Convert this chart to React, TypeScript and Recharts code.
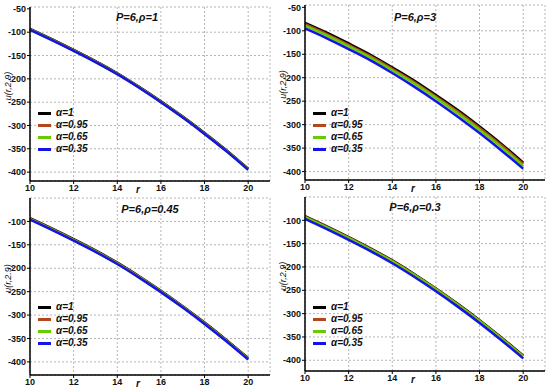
import { LineChart, Line, XAxis, YAxis, CartesianGrid, Legend } from 'recharts';

const rValues = [10, 11, 12, 13, 14, 15, 16, 17, 18, 19, 20];
const xTicks = [10, 12, 14, 16, 18, 20];
const yTicks = [-50, -100, -150, -200, -250, -300, -350, -400];
const alphaNames = ['α=1', 'α=0.95', 'α=0.65', 'α=0.35'];
const alphaColors = ['#000000', '#b5451b', '#66cc00', '#1414e6'];

// P=6, rho=1
const rho1A1 = [-93, -115, -138, -162, -188, -217, -248, -281, -316, -353, -393];
const rho1A095 = [-94, -116, -139, -163, -189, -218, -249, -282, -317, -354, -394];
const rho1A065 = [-94.5, -116.5, -139.5, -163.5, -189.5, -218.5, -249.5, -282.5, -317.5, -354.5, -394.5];
const rho1A035 = [-95, -117, -140, -164, -190, -219, -250, -283, -318, -355, -395];

// P=6, rho=3
const rho3A1 = [-83, -104, -127, -151, -178, -206, -237, -269, -304, -341, -381];
const rho3A095 = [-86, -107, -130, -154, -181, -209, -240, -272, -307, -344, -384];
const rho3A065 = [-89, -110, -133, -157, -184, -212, -243, -276, -311, -348, -388];
const rho3A035 = [-95, -116, -139, -163, -190, -219, -250, -283, -318, -355, -394];

// P=6, rho=0.45
const rho045A1 = [-93, -115, -138, -162, -188, -217, -248, -281, -316, -353, -392];
const rho045A095 = [-94, -116, -139, -163, -189, -218, -249, -282, -317, -354, -393];
const rho045A065 = [-95, -117, -140, -164, -190, -219, -250, -283, -318, -355, -394];
const rho045A035 = [-96, -118, -141, -165, -191, -220, -251, -284, -319, -356, -395];

// P=6, rho=0.3
const rho03A1 = [-91, -113, -136, -160, -186, -215, -246, -279, -314, -351, -390];
const rho03A095 = [-92, -114, -137, -161, -187, -216, -247, -280, -315, -352, -391];
const rho03A065 = [-93, -115, -138, -162, -188, -217, -248, -281, -316, -353, -392];
const rho03A035 = [-97, -119, -142, -166, -192, -221, -252, -285, -320, -357, -396];

const FONT = '"Liberation Sans", Arial, sans-serif';
const seriesKeys = ['a1', 'a095', 'a065', 'a035'];

function buildRows(series: number[][]) {
  return rValues.map((r, i) => ({
    r,
    a1: series[0][i],
    a095: series[1][i],
    a065: series[2][i],
    a035: series[3][i],
  }));
}

const tickStyle = { fontSize: 9, fontWeight: 'bold', fill: '#111', fontFamily: FONT };

function YLabel(props: any) {
  const vb = props.viewBox;
  if (!vb) return null;
  const cx = vb.x + 6;
  const cy = vb.y + vb.height / 2 - 8;
  return (
    <text
      x={cx}
      y={cy}
      transform={`rotate(-90, ${cx}, ${cy})`}
      textAnchor="middle"
      dominantBaseline="central"
      fontSize={9}
      fontStyle="italic"
      fontFamily={FONT}
      fill="#111"
    >
      u(r,2.9)
    </text>
  );
}

function XLabel(props: any) {
  const vb = props.viewBox;
  if (!vb) return null;
  return (
    <text
      x={vb.x + 108}
      y={vb.y + 8}
      textAnchor="middle"
      dominantBaseline="central"
      fontSize={10}
      fontStyle="italic"
      fontWeight="bold"
      fontFamily={FONT}
      fill="#111"
    >
      r
    </text>
  );
}

function renderLegend(props: any) {
  const payload = [...(props.payload || [])].sort(
    (a: any, b: any) => alphaNames.indexOf(a.value) - alphaNames.indexOf(b.value)
  );
  return (
    <div style={{ fontFamily: FONT, fontSize: 10, fontWeight: 'bold', fontStyle: 'italic', color: '#111' }}>
      {payload.map((entry: any) => (
        <div key={entry.value} style={{ display: 'flex', alignItems: 'center', height: 12, lineHeight: '12px' }}>
          <span style={{ display: 'inline-block', width: 13, height: 3, background: entry.color, marginRight: 5 }} />
          <span>{entry.value}</span>
        </div>
      ))}
    </div>
  );
}

type PanelProps = {
  left: number;
  top: number;
  title: string;
  titleX: number;
  titleY: number;
  series: number[][];
  yDomain: [number, number];
  marginTop: number;
  axisHeight: number;
};

function Panel({ left, top, title, titleX, titleY, series, yDomain, marginTop, axisHeight }: PanelProps) {
  const rows = buildRows(series);
  const frame = { stroke: '#000', strokeWidth: 1.5 };
  return (
    <div style={{ position: 'absolute', left, top, width: 275, height: 194 }}>
      <LineChart width={275} height={194} data={rows} margin={{ top: marginTop, right: 5, bottom: 0, left: 2 }}>
        <CartesianGrid stroke="#b5b5b5" strokeDasharray="2 2" />
        <XAxis
          dataKey="r"
          type="number"
          domain={[10, 21]}
          ticks={xTicks}
          height={axisHeight}
          tickSize={3}
          tickMargin={1}
          tick={tickStyle}
          axisLine={frame}
          tickLine={{ stroke: '#000' }}
          label={XLabel}
        />
        <XAxis
          xAxisId="top"
          orientation="top"
          dataKey="r"
          type="number"
          domain={[10, 21]}
          height={0}
          tick={false}
          tickLine={false}
          axisLine={frame}
        />
        <YAxis
          type="number"
          domain={yDomain}
          ticks={yTicks}
          width={28}
          tickSize={3}
          tickMargin={1}
          tick={tickStyle}
          axisLine={frame}
          tickLine={{ stroke: '#000' }}
          allowDataOverflow
          label={YLabel}
        />
        <YAxis
          yAxisId="right"
          orientation="right"
          type="number"
          domain={yDomain}
          width={0}
          tick={false}
          tickLine={false}
          axisLine={frame}
        />
        <Legend
          layout="horizontal"
          verticalAlign="middle"
          align="center"
          content={renderLegend}
          wrapperStyle={{ left: 38, top: 107, width: 100 }}
        />
        {seriesKeys.map((key, i) => (
          <Line
            key={key}
            type="monotone"
            dataKey={key}
            name={alphaNames[i]}
            stroke={alphaColors[i]}
            strokeWidth={2.5}
            dot={false}
            isAnimationActive={false}
          />
        ))}
      </LineChart>
      <div
        style={{
          position: 'absolute',
          left: titleX,
          top: titleY,
          transform: 'translate(-50%, -50%)',
          fontFamily: FONT,
          fontSize: 11,
          fontWeight: 'bold',
          fontStyle: 'italic',
          whiteSpace: 'nowrap',
          color: '#111',
        }}
      >
        {title}
      </div>
    </div>
  );
}

export default function App() {
  return (
    <div style={{ position: 'absolute', left: 0, top: 0, width: 550, height: 388, background: '#fff', overflow: 'hidden' }}>
      <Panel
        left={0}
        top={0}
        title="P=6,ρ=1"
        titleX={137}
        titleY={17}
        series={[rho1A1, rho1A095, rho1A065, rho1A035]}
        yDomain={[-419, -46]}
        marginTop={7}
        axisHeight={13}
      />
      <Panel
        left={275}
        top={0}
        title="P=6,ρ=3"
        titleX={140}
        titleY={17}
        series={[rho3A1, rho3A095, rho3A065, rho3A035]}
        yDomain={[-418, -45]}
        marginTop={5}
        axisHeight={14}
      />
      <Panel
        left={0}
        top={194}
        title="P=6,ρ=0.45"
        titleX={150}
        titleY={15}
        series={[rho045A1, rho045A095, rho045A065, rho045A035]}
        yDomain={[-428, -50]}
        marginTop={4}
        axisHeight={13}
      />
      <Panel
        left={275}
        top={194}
        title="P=6,ρ=0.3"
        titleX={140}
        titleY={13}
        series={[rho03A1, rho03A095, rho03A065, rho03A035]}
        yDomain={[-423, -50]}
        marginTop={3}
        axisHeight={17}
      />
    </div>
  );
}
